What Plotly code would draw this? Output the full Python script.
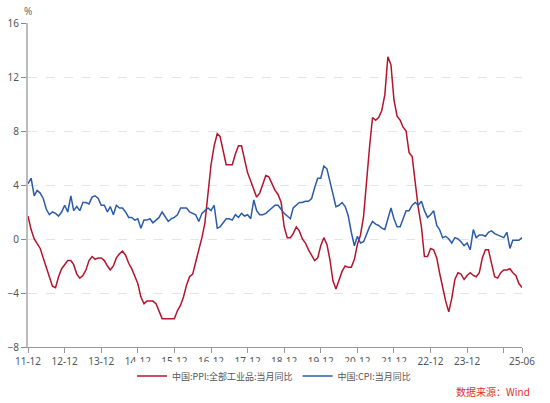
import plotly.graph_objects as go
import pandas as pd

dates = pd.date_range("2011-12-01", "2025-06-01", freq="MS").strftime("%Y-%m-%d").tolist()

ppi = [1.7,
 0.7, 0.0, -0.3, -0.7, -1.4, -2.1, -2.9, -3.5, -3.6, -2.8, -2.2, -1.9,
 -1.6, -1.6, -1.9, -2.6, -2.9, -2.7, -2.3, -1.6, -1.3, -1.5, -1.4, -1.4,
 -1.6, -2.0, -2.3, -2.0, -1.4, -1.1, -0.9, -1.2, -1.8, -2.2, -2.7, -3.3,
 -4.3, -4.8, -4.6, -4.6, -4.6, -4.8, -5.4, -5.9, -5.9, -5.9, -5.9, -5.9,
 -5.3, -4.9, -4.3, -3.4, -2.8, -2.6, -1.7, -0.8, 0.1, 1.2, 3.3, 5.5,
 6.9, 7.8, 7.6, 6.4, 5.5, 5.5, 5.5, 6.3, 6.9, 6.9, 5.8, 4.9,
 4.3, 3.7, 3.1, 3.4, 4.1, 4.7, 4.6, 4.1, 3.6, 3.3, 2.7, 0.9,
 0.1, 0.1, 0.4, 0.9, 0.6, 0.0, -0.3, -0.8, -1.2, -1.6, -1.4, -0.5,
 0.1, -0.4, -1.5, -3.1, -3.7, -3.0, -2.4, -2.0, -2.1, -2.1, -1.5, -0.4,
 0.3, 1.7, 4.4, 6.8, 9.0, 8.8, 9.0, 9.5, 10.7, 13.5, 12.9, 10.3,
 9.1, 8.8, 8.3, 8.0, 6.4, 6.1, 4.2, 2.3, 0.9, -1.3, -1.3, -0.7,
 -0.8, -1.4, -2.5, -3.6, -4.6, -5.4, -4.4, -3.0, -2.5, -2.6, -3.0, -2.7,
 -2.5, -2.7, -2.8, -2.5, -1.4, -0.8, -0.8, -1.8, -2.8, -2.9, -2.5, -2.3,
 -2.3, -2.2, -2.5, -2.7, -3.3, -3.6]

cpi = [4.1,
 4.5, 3.2, 3.6, 3.4, 3.0, 2.2, 1.8, 2.0, 1.9, 1.7, 2.0, 2.5,
 2.0, 3.2, 2.1, 2.4, 2.1, 2.7, 2.7, 2.6, 3.1, 3.2, 3.0, 2.5,
 2.5, 2.0, 2.4, 1.8, 2.5, 2.3, 2.3, 2.0, 1.6, 1.6, 1.4, 1.5,
 0.8, 1.4, 1.4, 1.5, 1.2, 1.4, 1.6, 2.0, 1.6, 1.3, 1.5, 1.6,
 1.8, 2.3, 2.3, 2.3, 2.0, 1.9, 1.8, 1.3, 1.9, 2.1, 2.3, 2.1,
 2.5, 0.8, 0.9, 1.2, 1.5, 1.5, 1.4, 1.8, 1.6, 1.9, 1.7, 1.8,
 1.5, 2.9, 2.1, 1.8, 1.8, 1.9, 2.1, 2.3, 2.5, 2.5, 2.2, 1.9,
 1.7, 1.5, 2.3, 2.5, 2.7, 2.7, 2.8, 2.8, 3.0, 3.8, 4.5, 4.5,
 5.4, 5.2, 4.3, 3.3, 2.4, 2.5, 2.7, 2.4, 1.7, 0.5, -0.5, 0.2,
 -0.3, -0.2, 0.4, 0.9, 1.3, 1.1, 1.0, 0.8, 0.7, 1.5, 2.3, 1.5,
 0.9, 0.9, 1.5, 2.1, 2.1, 2.5, 2.7, 2.5, 2.8, 2.1, 1.6, 1.8,
 2.1, 1.0, 0.7, 0.1, 0.2, 0.0, -0.3, 0.1, 0.0, -0.2, -0.5, -0.3,
 -0.8, 0.7, 0.1, 0.3, 0.3, 0.2, 0.5, 0.6, 0.4, 0.3, 0.2, 0.1,
 0.5, -0.7, -0.1, -0.1, -0.1, 0.1]

tick_dates = ["2011-12-01", "2012-12-01", "2013-12-01", "2014-12-01", "2015-12-01",
              "2016-12-01", "2017-12-01", "2018-12-01", "2019-12-01", "2020-12-01",
              "2021-12-01", "2022-12-01", "2023-12-01", "2024-12-01", "2025-06-01"]
tick_labels = ["11-12", "12-12", "13-12", "14-12", "15-12", "16-12", "17-12", "18-12",
               "19-12", "20-12", "21-12", "22-12", "23-12", "", "25-06"]
y_ticks = [-8, -4, 0, 4, 8, 12, 16]

FONT = "Noto Sans, Noto Sans CJK SC"
W, H = 550, 403
fig = go.Figure()
fig.add_trace(go.Scatter(x=dates, y=ppi, mode="lines", name="中国:PPI:全部工业品:当月同比",
                         line=dict(color="#b5142c", width=1.5)))
fig.add_trace(go.Scatter(x=dates, y=cpi, mode="lines", name="中国:CPI:当月同比",
                         line=dict(color="#2b5ba8", width=1.5)))

fig.update_layout(
    width=W, height=H,
    margin=dict(l=28, r=28, t=23, b=56, autoexpand=False),
    paper_bgcolor="white", plot_bgcolor="white",
    font=dict(family=FONT, size=10, color="#555"),
    showlegend=True,
    legend=dict(orientation="h", x=274 / W, xanchor="center", xref="container",
                y=(H - 376) / H, yanchor="middle", yref="container",
                font=dict(family="Noto Sans CJK SC", size=9, color="#555"),
                itemwidth=30, tracegroupgap=0),
    xaxis=dict(range=[dates[0], dates[-1]], tickmode="array", tickvals=tick_dates,
               ticktext=tick_labels, showgrid=False, showline=True, linecolor="#999",
               linewidth=1, ticks="outside", ticklen=5, tickcolor="#999", automargin=False,
               tickfont=dict(size=10, color="#555"), zeroline=False),
    yaxis=dict(range=[-8, 16], tickmode="array", tickvals=y_ticks, showgrid=True,
               gridcolor="#e4e4e4", griddash="dash", gridwidth=1, showline=True,
               linecolor="#bbb", linewidth=2, ticks="outside", ticklen=5, tickcolor="#888",
               automargin=False, tickfont=dict(size=10, color="#555"), zeroline=False),
    annotations=[
        dict(text="%", xref="paper", yref="paper", x=0, y=1, xanchor="center", yanchor="bottom",
             yshift=3, showarrow=False, font=dict(size=10, color="#666")),
        dict(text="数据来源：Wind", xref="paper", yref="paper", x=1, y=(347 - 391) / 324,
             xanchor="right", yanchor="middle", xshift=10, showarrow=False,
             font=dict(family="Noto Sans CJK SC", size=10, color="#e03030")),
    ],
)
fig.write_html("out.html", config={"displayModeBar": False},
               post_script="document.body.style.margin='0';document.body.style.overflow='hidden';")
